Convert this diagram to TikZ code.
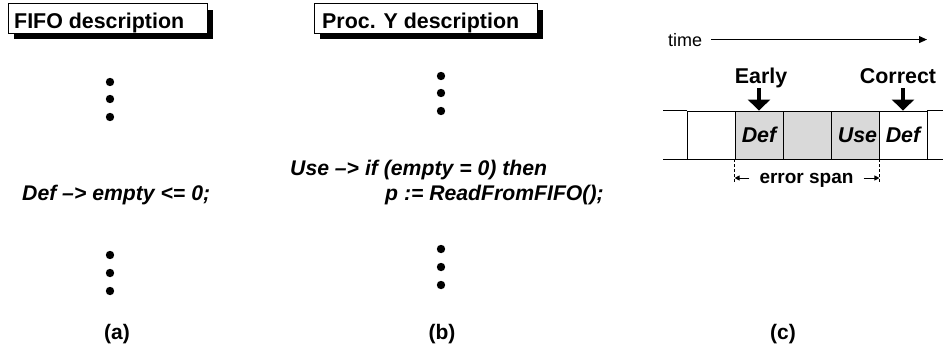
\documentclass[tikz,border=0pt]{standalone}
\usepackage{fontspec}
\setmainfont{Liberation Sans}
\usetikzlibrary{arrows.meta,calc}
\definecolor{cellgray}{RGB}{217,217,217}
\begin{document}
\begin{tikzpicture}[x=1pt,y=-1pt,
  hdrtext/.style={font=\fontsize{21.4}{25}\selectfont\bfseries, anchor=base west, inner sep=0pt},
  hdrbox/.style={draw, fill=white, line width=0.9pt, inner sep=0pt, minimum height=29.5pt},
  hdrshadow/.style={fill=black, inner sep=0pt, minimum height=29.5pt},
  codeline/.style={font=\fontsize{21.2}{25}\selectfont\bfseries\itshape, anchor=base west, inner sep=0pt},
  vdot/.style={circle, fill=black, inner sep=0pt, minimum size=8.4pt},
  sublabel/.style={font=\fontsize{21}{25}\selectfont\bfseries, anchor=base, inner sep=0pt},
  cell/.style={draw, line width=0.9pt, minimum width=48pt, minimum height=48pt, inner sep=0pt,
    font=\fontsize{21.4}{25}\selectfont\bfseries\itshape},
  marker/.style={font=\fontsize{21.4}{25}\selectfont\bfseries, anchor=base, inner sep=0pt, text depth=5pt},
  blockarrow/.style={line width=4pt, -{Triangle[length=11pt,width=22pt]}},
  thinline/.style={line width=0.9pt},
  spanline/.style={line width=0.7pt, dash pattern=on 3pt off 2pt},
  spanarrow/.style={line width=0.8pt, -{Triangle[length=5pt,width=5pt]}}
]
\useasboundingbox (0,0) rectangle (943,349);

% ---- (a) FIFO description ----
\node[hdrshadow, minimum width=199pt] (fifoshadow) at (113.5,24.25) {};
\node[hdrbox, minimum width=199pt] (fifobox) at (107.5,18.25) {};
\node[hdrtext] (fifotitle) at (14,28) {FIFO description};

\node[vdot] (a1) at (110,82) {};
\node[vdot] (a2) at (110,99) {};
\node[vdot] (a3) at (110,117) {};
\node[codeline] (defA) at (22,200) {Def –> empty <= 0;};
\node[vdot] (a4) at (110,255) {};
\node[vdot] (a5) at (110,273) {};
\node[vdot] (a6) at (110,291) {};
\node[sublabel] (labA) at (117,339) {(a)};

% ---- (b) Proc. Y description ----
\node[hdrshadow, minimum width=223pt] (procshadow) at (431.5,24.25) {};
\node[hdrbox, minimum width=223pt] (procbox) at (425.5,18.25) {};
\node[hdrtext] (proctitle) at (322,28) {Proc. Y description};

\node[vdot] (b1) at (441,76) {};
\node[vdot] (b2) at (441,93) {};
\node[vdot] (b3) at (441,111) {};
\node[codeline] (useB) at (290,175) {Use –> if (empty = 0) then};
\node[codeline] (readB) at (385,200) {p := ReadFromFIFO();};
\node[vdot] (b4) at (441,249) {};
\node[vdot] (b5) at (441,267) {};
\node[vdot] (b6) at (441,285) {};
\node[sublabel] (labB) at (442,339) {(b)};

% ---- (c) time line ----
\node[font=\fontsize{18}{22}\selectfont, anchor=base west, inner xsep=9pt, inner ysep=0pt] (time) at (659,46) {time};
\coordinate (timeend) at (927,40);
\draw[thinline, -{Triangle[length=8pt,width=7pt]}] (time.east) -- (time.east -| timeend);

\node[cell] (c1) at (711,135) {};
\node[cell, fill=cellgray] (c2) at (759,135) {Def};
\node[cell, fill=cellgray] (c3) at (807,135) {};
\node[cell, fill=cellgray] (c4) at (855,135) {\hspace*{5pt}Use};
\node[cell] (c5) at (903,135) {Def};
\draw[thinline] (c1.north west) -- ++(-24,0);
\draw[thinline] (c1.south west) -- ++(-24,0);
\draw[thinline] (c5.north east) -- ++(16,0);
\draw[thinline] (c5.south east) -- ++(16,0);

\node[marker] (early) at (761,83) {Early};
\node[marker] (correct) at (898,83) {Correct};
\draw[blockarrow] (c2.north |- early.south) -- (c2.north);
\draw[blockarrow] (c5.north |- correct.south) -- (c5.north);

\coordinate (lspan) at ($(c2.south west)+(0,24)$);
\coordinate (rspan) at ($(c4.south east)+(0,24)$);
\draw[spanline] (c2.south west) -- (lspan);
\draw[spanline] (c4.south east) -- (rspan);
\node[font=\fontsize{19}{23}\selectfont\bfseries, text height=14pt, text depth=4pt,
  inner ysep=0pt, inner xsep=10pt, anchor=base] (span) at (806.5,183) {error span};
\draw[spanarrow] (span.west) -- (span.west -| lspan);
\draw[spanarrow] (span.east) -- (span.east -| rspan);

\node[sublabel] (labC) at (783,339) {(c)};
\end{tikzpicture}
\end{document}
